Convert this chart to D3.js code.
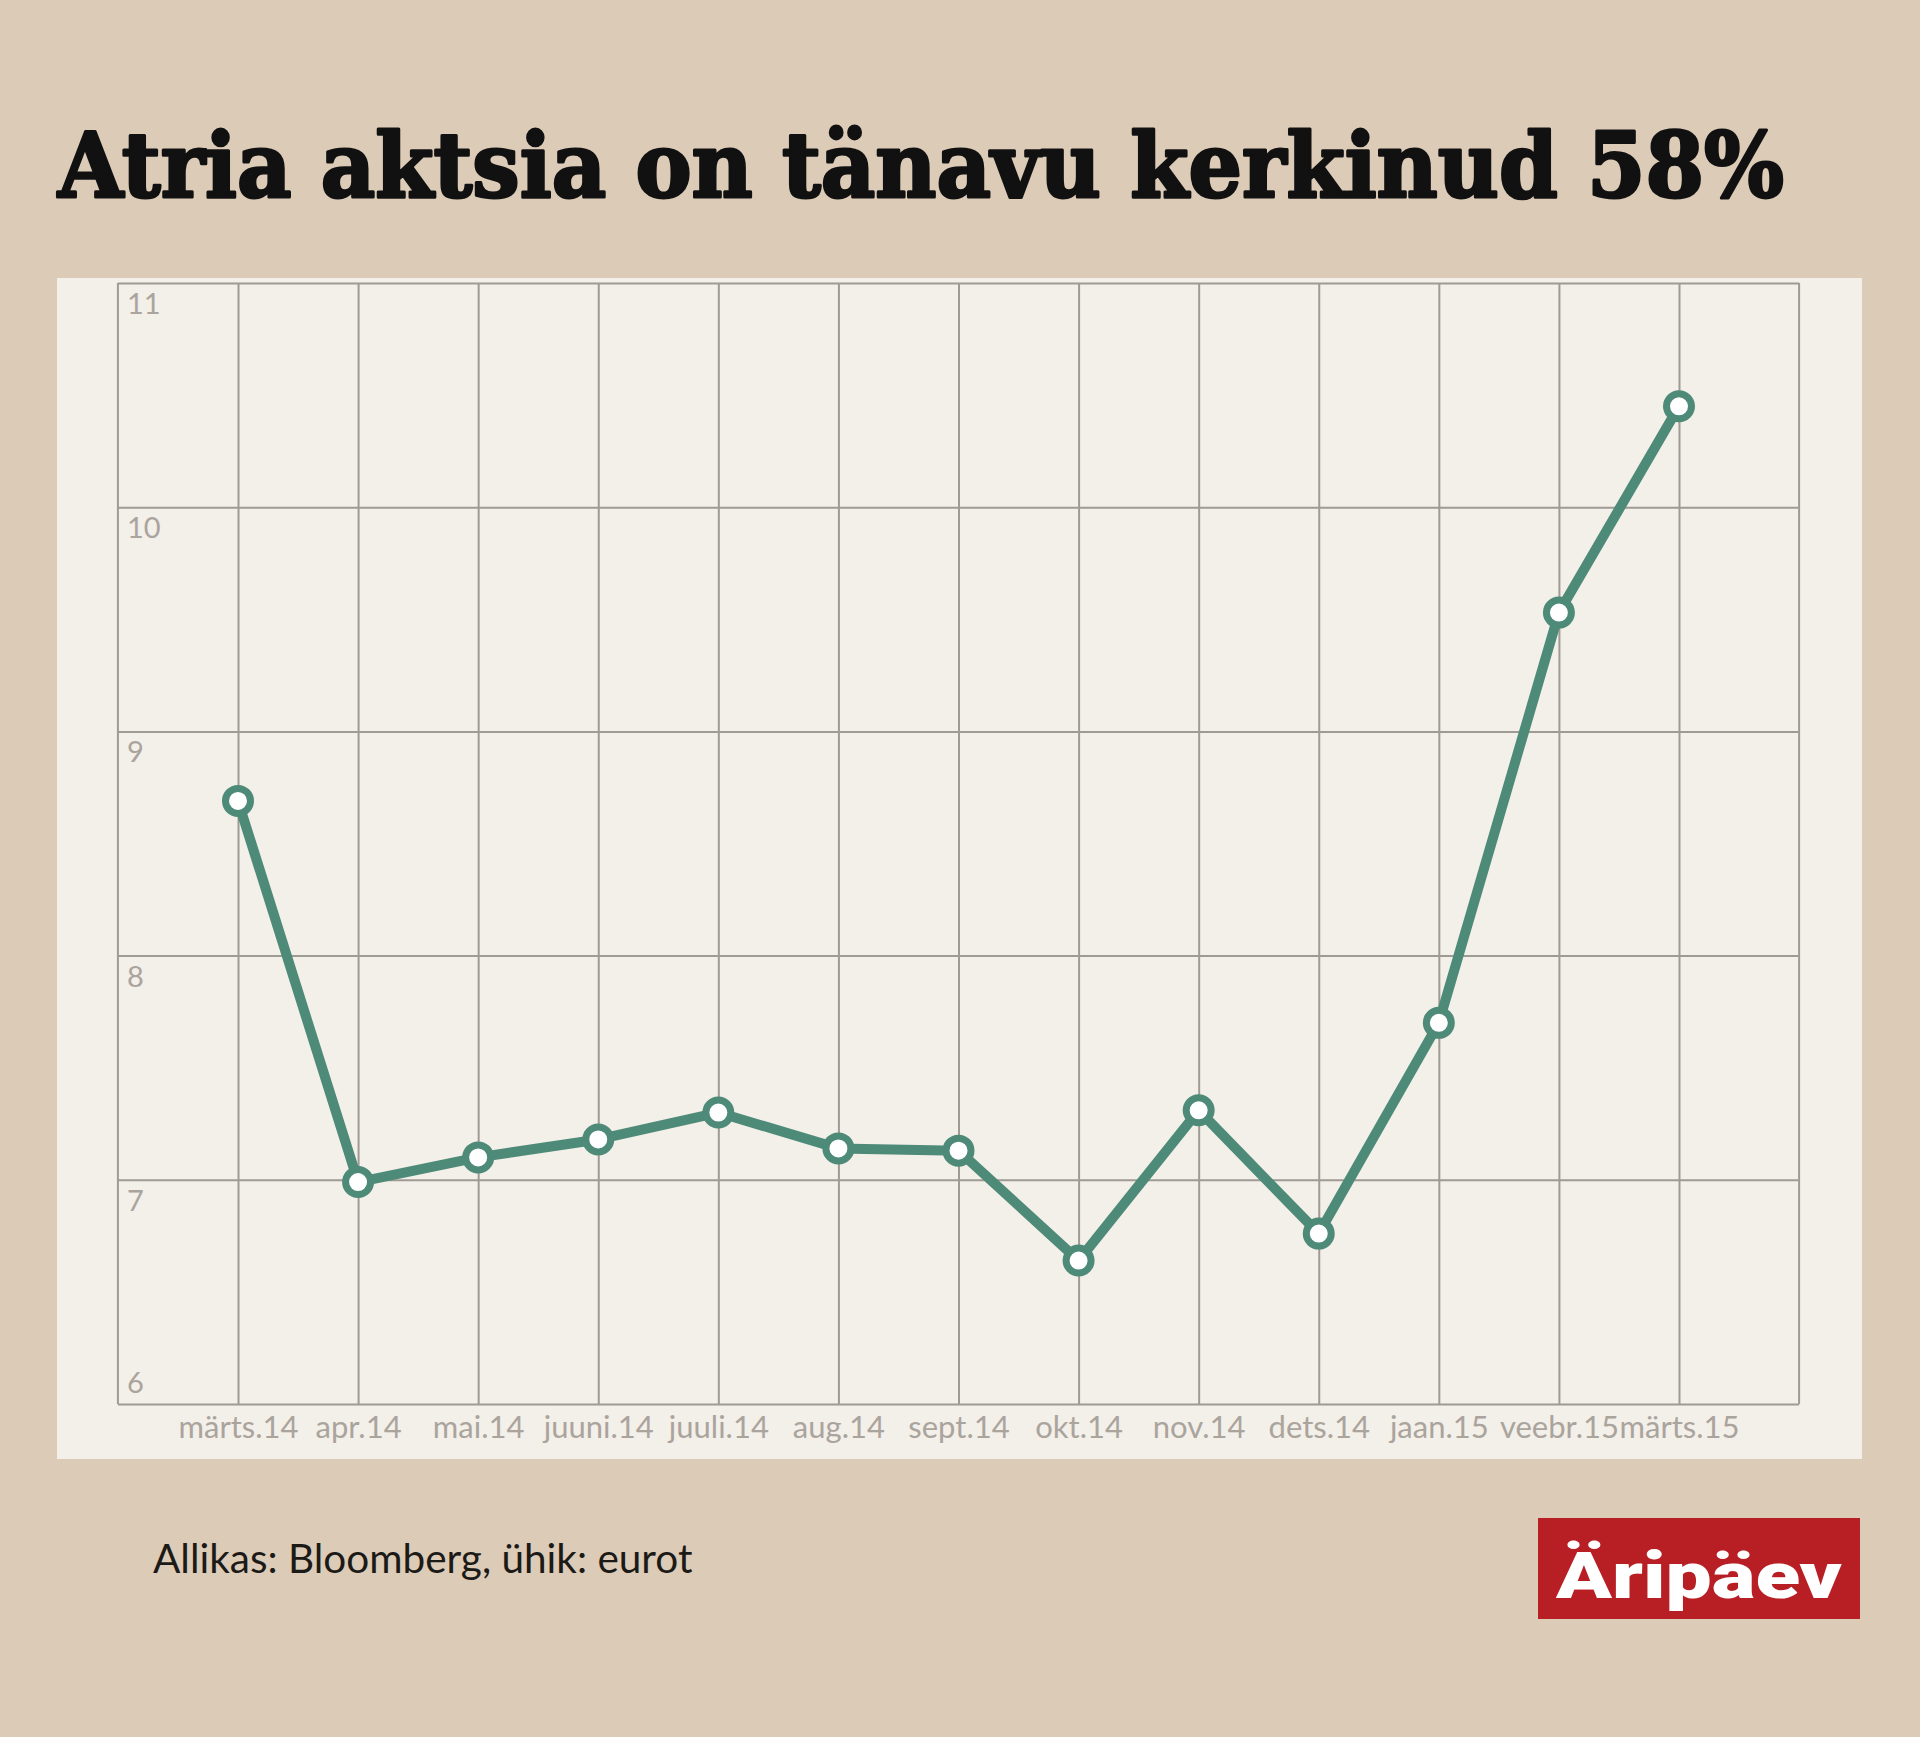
<!DOCTYPE html>
<html>
<head>
<meta charset="utf-8">
<script src="https://cdn.jsdelivr.net/npm/d3@7/dist/d3.min.js"></script>
<style>
  html, body { margin: 0; padding: 0; background: #dccbb7; }
  svg { display: block; }
</style>
</head>
<body>
<svg id="chart" width="1920" height="1737"></svg>
<script>
const categories = ["märts.14","apr.14","mai.14","juuni.14","juuli.14","aug.14","sept.14","okt.14","nov.14","dets.14","jaan.15","veebr.15","märts.15"];
const values = [8.69, 6.99, 7.10, 7.18, 7.30, 7.14, 7.13, 6.64, 7.31, 6.76, 7.70, 9.53, 10.45];
const yTicks = [6, 7, 8, 9, 10, 11];
const titleText = "Atria aktsia on tänavu kerkinud 58%";
const sourceText = "Allikas: Bloomberg, ühik: eurot";
const logoText = "Äripäev";

const svg = d3.select("#chart");
const W = 1920, H = 1737;

svg.append("rect").attr("width", W).attr("height", H).attr("fill", "#dccbb7");

// Title
svg.append("text")
  .attr("x", 58).attr("y", 197)
  .attr("font-family", "'DejaVu Serif', serif")
  .attr("font-weight", 900)
  .attr("font-size", 90)
  .attr("fill", "#111")
  .attr("stroke", "#111").attr("stroke-width", 3)
  .attr("stroke-linejoin", "round")
  .attr("textLength", 1726).attr("lengthAdjust", "spacingAndGlyphs")
  .text(titleText);

// Panel
svg.append("rect")
  .attr("x", 57).attr("y", 278).attr("width", 1805).attr("height", 1181)
  .attr("fill", "#f3efe9");

const x = d3.scalePoint().domain(categories).range([238, 1679]);
const y = d3.scaleLinear().domain([d3.min(yTicks), d3.max(yTicks)]).range([1404, 283]);
const left = x(categories[0]) - x.step();
const right = x(categories[categories.length - 1]) + x.step();
const gridColor = "#a09a94";

// Horizontal grid
const gy = svg.append("g").attr("transform", `translate(${left},0)`)
  .call(d3.axisLeft(y).tickValues(yTicks).tickSize(-(right - left)).tickFormat(""));
gy.select(".domain").remove();
gy.selectAll(".tick line").attr("stroke", gridColor).attr("stroke-width", 2);

// Vertical grid
const gx = svg.append("g").attr("transform", `translate(0,${y(d3.min(yTicks))})`)
  .call(d3.axisBottom(x).tickSize(-(y(d3.min(yTicks)) - y(d3.max(yTicks)))).tickFormat(""));
gx.select(".domain").remove();
gx.selectAll(".tick line").attr("stroke", gridColor).attr("stroke-width", 2);

// Frame sides
svg.append("g").selectAll("line").data([left, right]).join("line")
  .attr("x1", d => d).attr("x2", d => d)
  .attr("y1", y(d3.max(yTicks))).attr("y2", y(d3.min(yTicks)))
  .attr("stroke", gridColor).attr("stroke-width", 2);

// Y labels (inside, top-left of gridline)
svg.append("g").selectAll("text").data(yTicks).join("text")
  .attr("x", left + 9)
  .attr("y", d => d === d3.min(yTicks) ? y(d) - 11 : y(d) + 31)
  .attr("font-family", "Lato, sans-serif")
  .attr("font-size", 29)
  .attr("fill", "#aaa49d")
  .text(d => d);

// X labels
const xl = svg.append("g").attr("transform", `translate(0,${y(d3.min(yTicks))})`)
  .call(d3.axisBottom(x).tickSize(0).tickPadding(12));
xl.select(".domain").remove();
xl.selectAll("text")
  .attr("font-family", "Lato, sans-serif")
  .attr("font-size", 31)
  .attr("fill", "#aaa49d")
  .attr("dy", "0.71em");

// Line
const line = d3.line().x((d, i) => x(categories[i])).y(d => y(d));
svg.append("path").datum(values)
  .attr("d", line)
  .attr("fill", "none")
  .attr("stroke", "#4e8a78")
  .attr("stroke-width", 10)
  .attr("stroke-linejoin", "round");

svg.append("g").selectAll("circle").data(values).join("circle")
  .attr("cx", (d, i) => x(categories[i]))
  .attr("cy", d => y(d))
  .attr("r", 12.5)
  .attr("fill", "#ffffff")
  .attr("stroke", "#4e8a78")
  .attr("stroke-width", 7);

// Source
svg.append("text")
  .attr("x", 153).attr("y", 1573)
  .attr("font-family", "Lato, sans-serif")
  .attr("font-size", 40.5)
  .attr("fill", "#1c1a17")
  .text(sourceText);

// Logo
svg.append("rect")
  .attr("x", 1538).attr("y", 1518).attr("width", 322).attr("height", 101)
  .attr("fill", "#b81f25");
svg.append("text")
  .attr("x", 1556).attr("y", 1598)
  .attr("font-family", "Roboto, sans-serif")
  .attr("font-weight", 900)
  .attr("font-size", 64)
  .attr("fill", "#ffffff")
  .attr("textLength", 286).attr("lengthAdjust", "spacingAndGlyphs")
  .text(logoText);
</script>
</body>
</html>
